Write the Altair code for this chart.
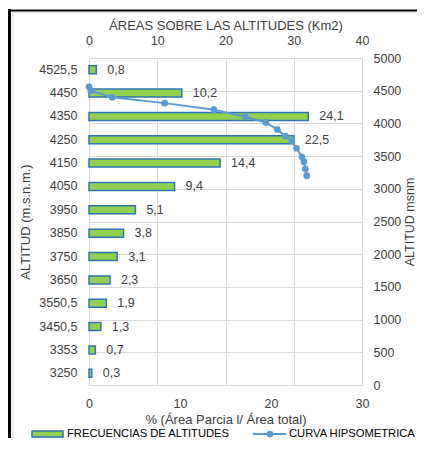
import altair as alt
import pandas as pd

# ---- data ----
altitudes = ["4525,5", "4450", "4350", "4250", "4150", "4050", "3950",
             "3850", "3750", "3650", "3550,5", "3450,5", "3353", "3250"]
percent = [0.8, 10.2, 24.1, 22.5, 14.4, 9.4, 5.1, 3.8, 3.1, 2.3, 1.9, 1.3, 0.7, 0.3]

curve_area = [0.0, 0.25, 3.4, 11.1, 18.3, 22.9, 25.9, 27.6, 28.8, 29.7, 30.4, 31.2, 31.5, 31.7, 31.9]
curve_alt = [4560, 4500, 4400, 4310, 4210, 4100, 4015, 3905, 3805, 3730, 3620, 3490, 3415, 3305, 3200]

pct_ticks = [0, 10, 20, 30]
area_ticks = [0, 10, 20, 30, 40]
alt_ticks = list(range(0, 5001, 500))

bar_name = "FRECUENCIAS DE ALTITUDES"
line_name = "CURVA HIPSOMETRICA"

bars_df = pd.DataFrame({
    "alt": altitudes,
    "pct": percent,
    "label": [f"{v:.1f}".replace(".", ",") for v in percent],
})
curve_df = pd.DataFrame({"area": curve_area, "altitude": curve_alt})

FONT = "Liberation Sans"
W, H = 273, 327
GREEN = "#92D050"
BLUE_EDGE = "#2E75B6"
LINE = "#5B9BD5"
GRID = "#D9D9D9"
TXT = "#404040"

y_band = alt.Y("alt:N", sort=altitudes,
               scale=alt.Scale(paddingInner=0, paddingOuter=0),
               axis=alt.Axis(orient="left", title="ALTITUD (m.s.n.m.)", ticks=False,
                             domain=False, grid=False, labelPadding=12, titlePadding=6,
                             labelFontSize=12.5, titleFontSize=13, labelColor=TXT,
                             titleColor=TXT, titleFontWeight="normal", labelFont=FONT,
                             titleFont=FONT))
x_pct = alt.X("pct:Q", scale=alt.Scale(domain=[0, 30], nice=False),
              axis=alt.Axis(orient="bottom", title="% (Área Parcia l/ Área total)",
                            values=pct_ticks, grid=False, domain=False, ticks=False,
                            labelFlush=False, labelPadding=12, titlePadding=4,
                            labelFontSize=12.5, titleFontSize=13, labelColor=TXT,
                            titleColor=TXT, titleFontWeight="normal", labelFont=FONT,
                            titleFont=FONT))

bars = alt.Chart(bars_df).mark_bar(size=8, fill=GREEN, stroke=BLUE_EDGE,
                                   strokeWidth=1.5).encode(x=x_pct, y=y_band)
labels = alt.Chart(bars_df).mark_text(align="left", baseline="middle", dx=11,
                                      font=FONT, fontSize=12.5, color=TXT).encode(
    x="pct:Q", y=alt.Y("alt:N", sort=altitudes), text="label:N")
bar_layer = alt.layer(bars, labels)

x_area = alt.X("area:Q", scale=alt.Scale(domain=[0, 40], nice=False),
               axis=alt.Axis(orient="top", title="ÁREAS SOBRE LAS ALTITUDES (Km2)",
                             values=area_ticks, grid=True, gridColor=GRID, domain=False,
                             ticks=False, labelFlush=False, labelPadding=11,
                             titlePadding=2, labelFontSize=12.5, titleFontSize=13,
                             labelColor=TXT, titleColor=TXT, titleFontWeight="normal",
                             labelFont=FONT, titleFont=FONT))
y_alt = alt.Y("altitude:Q", scale=alt.Scale(domain=[0, 5000], nice=False),
              axis=alt.Axis(orient="right", title="ALTITUD msnm", values=alt_ticks,
                            format="d", grid=True, gridColor=GRID, domain=False,
                            ticks=False, labelFlush=False, labelPadding=11,
                            titlePadding=3, titleAngle=270, titleBaseline="top",
                            labelFontSize=12.5, titleFontSize=12.5, labelColor=TXT,
                            titleColor=TXT, titleFontWeight="normal", labelFont=FONT,
                            titleFont=FONT))
curve = alt.Chart(curve_df).mark_line(
    color=LINE, strokeWidth=2,
    point=alt.OverlayMarkDef(filled=True, size=45, color=LINE, opacity=1)
).encode(x=x_area, y=y_alt, order=alt.Order("altitude:Q", sort="descending"))

# ---- frame and legend decorations ----
one = pd.DataFrame({"k": [0]})
frame_gray = alt.Chart(one).mark_rect(fill=None, stroke=GRID, strokeWidth=1).encode(
    x=alt.value(-76), x2=alt.value(345), y=alt.value(-46), y2=alt.value(H + 60))
frame_left = alt.Chart(one).mark_rule(color="black", strokeWidth=3).encode(
    x=alt.value(-79.5), y=alt.value(-49), y2=alt.value(H + 80))
frame_top = alt.Chart(one).mark_rule(color="black", strokeWidth=2).encode(
    x=alt.value(-81), x2=alt.value(345), y=alt.value(-47.5))

leg_rect = alt.Chart(one).mark_rect(fill=GREEN, stroke=BLUE_EDGE, strokeWidth=1.5).encode(
    x=alt.value(-57), x2=alt.value(-26), y=alt.value(373), y2=alt.value(379))
leg_text1 = alt.Chart(one).mark_text(align="left", baseline="middle", font=FONT,
                                     fontSize=11.2, color="black").encode(
    x=alt.value(-22), y=alt.value(376), text=alt.value(bar_name))
leg_line = alt.Chart(one).mark_rule(color=LINE, strokeWidth=2).encode(
    x=alt.value(164), x2=alt.value(197), y=alt.value(376))
leg_pt = alt.Chart(one).mark_point(filled=True, size=45, color=LINE, opacity=1).encode(
    x=alt.value(181), y=alt.value(376))
leg_text2 = alt.Chart(one).mark_text(align="left", baseline="middle", font=FONT,
                                     fontSize=11.2, color="black").encode(
    x=alt.value(200), y=alt.value(376), text=alt.value(line_name))

chart = alt.layer(
    bar_layer, curve,
    frame_gray, frame_left, frame_top,
    leg_rect, leg_text1, leg_line, leg_pt, leg_text2,
).resolve_scale(x="independent", y="independent").properties(
    width=W, height=H,
    autosize=alt.AutoSizeParams(type="none"),
    padding={"left": 81, "top": 50, "right": 55, "bottom": 53},
).configure_view(stroke=None)

chart.save("out.html", embed_options={"renderer": "svg", "actions": False})
